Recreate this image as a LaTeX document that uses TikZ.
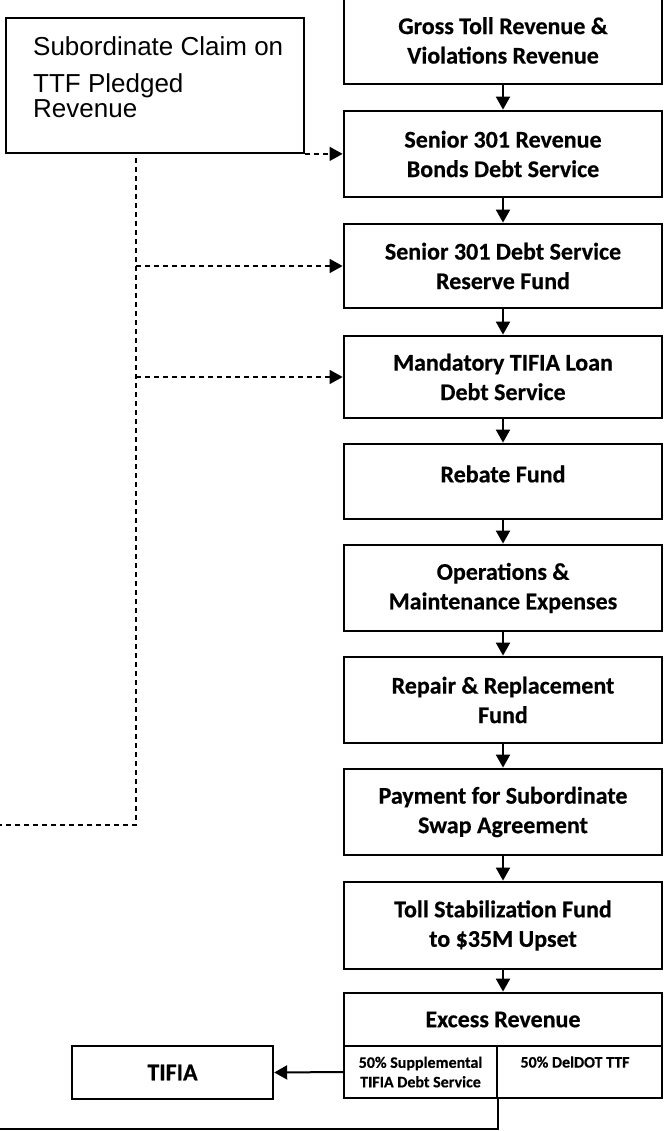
\documentclass[tikz,border=0pt]{standalone}
\usepackage{fontspec}
\setmainfont{Carlito}[BoldFeatures={FakeBold=0.5}]
\newfontfamily\arialfont{Liberation Sans}
\usetikzlibrary{arrows.meta}
\begin{document}
\begin{tikzpicture}[x=1pt,y=-1pt,
  box/.style={draw,line width=2.8pt,rectangle,minimum width=318pt,inner sep=0pt,align=center,
    font=\bfseries\fontsize{24}{29.5}\selectfont},
  subbox/.style={draw,line width=2.4pt,rectangle,inner sep=0pt,align=center,
    font=\bfseries\fontsize{16}{19.5}\selectfont},
  lbl/.style={inner sep=0pt,align=center,font=\bfseries\fontsize{24}{29.5}\selectfont},
  sublbl/.style={inner sep=0pt,align=center,font=\bfseries\fontsize{16}{19.5}\selectfont},
  subtxt/.style={inner sep=0pt,anchor=base west,font=\arialfont\fontsize{26}{26}\selectfont},
  flow/.style={line width=2pt,-{Triangle[length=13pt,width=14pt]}},
  dashline/.style={line width=1.5pt,dash pattern=on 5pt off 4pt},
  dasharrow/.style={dashline,-{Triangle[length=13pt,width=14pt]}}]
\useasboundingbox (0,0) rectangle (667,1131);

% subordinate claim box
\node[draw,line width=1.8pt,rectangle,minimum width=298pt,minimum height=135pt,inner sep=0pt] (sub) at (155,85.5) {};
\node[subtxt] (s1) at (33,56) {Subordinate Claim on};
\node[subtxt] (s2) at (33,93) {TTF Pledged};
\node[subtxt] (s3) at (33,118) {Revenue};

% main column
\node[box,minimum height=87pt] (gross) at (503,40.5) {Gross Toll Revenue \&\\Violations Revenue};
\node[box,minimum height=86pt] (senior) at (503,154) {Senior 301 Revenue\\Bonds Debt Service};
\node[box,minimum height=84pt] (dsrf) at (503,266) {Senior 301 Debt Service\\Reserve Fund};
\node[box,minimum height=82pt] (mand) at (503,377) {Mandatory TIFIA Loan\\Debt Service};
\node[box,minimum height=75pt] (rebate) at (503,481.5) {};
\node[lbl] (rebatet) at (503,474) {Rebate Fund};
\node[box,minimum height=86pt] (ops) at (503,588) {Operations \&\\Maintenance Expenses};
\node[box,minimum height=86pt] (repair) at (503,700) {Repair \& Replacement\\Fund};
\node[box,minimum height=86pt] (pay) at (503,812) {Payment for Subordinate\\Swap Agreement};
\node[box,minimum height=87pt] (toll) at (503,925.5) {Toll Stabilization Fund\\to \$35M Upset};
\node[box,minimum height=53pt] (excess) at (503,1019.5) {Excess Revenue};
\node[subbox,minimum width=153pt,minimum height=52pt] (exl) at (420.5,1072) {50\% Supplemental\\TIFIA Debt Service};
\node[subbox,minimum width=165pt,minimum height=52pt] (exr) at (579.5,1072) {};
\node[sublbl] (exrt) at (575,1062) {50\% DelDOT TTF};

\node[draw,line width=2.4pt,rectangle,minimum width=201pt,minimum height=53pt,inner sep=0pt,
  font=\bfseries\fontsize{24}{28}\selectfont] (tifia) at (172.5,1072.5) {TIFIA};

% flow arrows
\draw[flow] (gross.south) -- (senior.north);
\draw[flow] (senior.south) -- (dsrf.north);
\draw[flow] (dsrf.south) -- (mand.north);
\draw[flow] (mand.south) -- (rebate.north);
\draw[flow] (rebate.south) -- (ops.north);
\draw[flow] (ops.south) -- (repair.north);
\draw[flow] (repair.south) -- (pay.north);
\draw[flow] (pay.south) -- (toll.north);
\draw[flow] (toll.south) -- (excess.north);
\draw[flow] (exl.west) -- (tifia.east);

% bottom outflow
\coordinate (outend) at (0,1129);
\draw[line width=2pt] (exl.south east) -- (exl.south east |- outend) -- (outend);

% dashed subordinate claim lines
\coordinate (dtop) at (136,158);
\coordinate (dj2) at (136,266);
\coordinate (dj3) at (136,377);
\coordinate (dbot) at (136,825);
\coordinate (dend) at (0,825);
\draw[dasharrow] (sub.south east) -- (sub.south east -| senior.west);
\draw[dashline] (dtop) -- (dbot) -- (dend);
\draw[dasharrow] (dj2) -- (dsrf.west);
\draw[dasharrow] (dj3) -- (mand.west);
\end{tikzpicture}
\end{document}
